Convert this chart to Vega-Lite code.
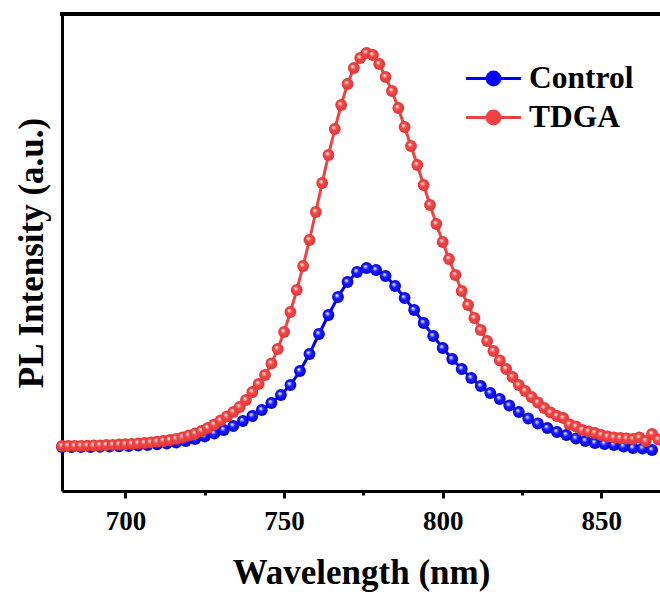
{
  "$schema": "https://vega.github.io/schema/vega-lite/v6.json",
  "width": 598,
  "height": 477,
  "autosize": "none",
  "padding": {"left": 62, "top": 14, "right": 0, "bottom": 101},
  "background": "white",
  "config": {
    "view": {"stroke": null},
    "font": "Liberation Serif",
    "axis": {"domainColor": "black", "domainWidth": 3, "tickColor": "black", "tickWidth": 3, "labelColor": "black", "titleColor": "black", "grid": false}
  },
  "datasets": {
    "pl": [
      {"series": "Control", "wavelength": 680, "intensity": 2200},
      {"series": "Control", "wavelength": 683, "intensity": 2200},
      {"series": "Control", "wavelength": 686, "intensity": 2200},
      {"series": "Control", "wavelength": 689, "intensity": 2200},
      {"series": "Control", "wavelength": 692, "intensity": 2210},
      {"series": "Control", "wavelength": 695, "intensity": 2225},
      {"series": "Control", "wavelength": 698, "intensity": 2235},
      {"series": "Control", "wavelength": 701, "intensity": 2250},
      {"series": "Control", "wavelength": 704, "intensity": 2275},
      {"series": "Control", "wavelength": 707, "intensity": 2300},
      {"series": "Control", "wavelength": 710, "intensity": 2335},
      {"series": "Control", "wavelength": 713, "intensity": 2375},
      {"series": "Control", "wavelength": 716, "intensity": 2425},
      {"series": "Control", "wavelength": 719, "intensity": 2500},
      {"series": "Control", "wavelength": 722, "intensity": 2600},
      {"series": "Control", "wavelength": 725, "intensity": 2725},
      {"series": "Control", "wavelength": 728, "intensity": 2875},
      {"series": "Control", "wavelength": 731, "intensity": 3050},
      {"series": "Control", "wavelength": 734, "intensity": 3250},
      {"series": "Control", "wavelength": 737, "intensity": 3500},
      {"series": "Control", "wavelength": 740, "intensity": 3750},
      {"series": "Control", "wavelength": 743, "intensity": 4050},
      {"series": "Control", "wavelength": 746, "intensity": 4400},
      {"series": "Control", "wavelength": 749, "intensity": 4800},
      {"series": "Control", "wavelength": 752, "intensity": 5300},
      {"series": "Control", "wavelength": 755, "intensity": 6000},
      {"series": "Control", "wavelength": 758, "intensity": 6850},
      {"series": "Control", "wavelength": 761, "intensity": 7850},
      {"series": "Control", "wavelength": 764, "intensity": 8800},
      {"series": "Control", "wavelength": 767, "intensity": 9700},
      {"series": "Control", "wavelength": 770, "intensity": 10450},
      {"series": "Control", "wavelength": 773, "intensity": 10950},
      {"series": "Control", "wavelength": 776, "intensity": 11150},
      {"series": "Control", "wavelength": 779, "intensity": 11050},
      {"series": "Control", "wavelength": 782, "intensity": 10750},
      {"series": "Control", "wavelength": 785, "intensity": 10250},
      {"series": "Control", "wavelength": 788, "intensity": 9650},
      {"series": "Control", "wavelength": 791, "intensity": 9050},
      {"series": "Control", "wavelength": 794, "intensity": 8400},
      {"series": "Control", "wavelength": 797, "intensity": 7750},
      {"series": "Control", "wavelength": 800, "intensity": 7150},
      {"series": "Control", "wavelength": 803, "intensity": 6600},
      {"series": "Control", "wavelength": 806, "intensity": 6100},
      {"series": "Control", "wavelength": 809, "intensity": 5650},
      {"series": "Control", "wavelength": 812, "intensity": 5250},
      {"series": "Control", "wavelength": 815, "intensity": 4900},
      {"series": "Control", "wavelength": 818, "intensity": 4600},
      {"series": "Control", "wavelength": 821, "intensity": 4275},
      {"series": "Control", "wavelength": 824, "intensity": 3950},
      {"series": "Control", "wavelength": 827, "intensity": 3625},
      {"series": "Control", "wavelength": 830, "intensity": 3375},
      {"series": "Control", "wavelength": 833, "intensity": 3150},
      {"series": "Control", "wavelength": 836, "intensity": 2950},
      {"series": "Control", "wavelength": 839, "intensity": 2800},
      {"series": "Control", "wavelength": 842, "intensity": 2625},
      {"series": "Control", "wavelength": 845, "intensity": 2500},
      {"series": "Control", "wavelength": 848, "intensity": 2400},
      {"series": "Control", "wavelength": 851, "intensity": 2350},
      {"series": "Control", "wavelength": 854, "intensity": 2300},
      {"series": "Control", "wavelength": 857, "intensity": 2225},
      {"series": "Control", "wavelength": 860, "intensity": 2150},
      {"series": "Control", "wavelength": 863, "intensity": 2125},
      {"series": "Control", "wavelength": 866, "intensity": 2050},
      {"series": "TDGA", "wavelength": 680, "intensity": 2250},
      {"series": "TDGA", "wavelength": 682, "intensity": 2250},
      {"series": "TDGA", "wavelength": 684, "intensity": 2250},
      {"series": "TDGA", "wavelength": 686, "intensity": 2260},
      {"series": "TDGA", "wavelength": 688, "intensity": 2265},
      {"series": "TDGA", "wavelength": 690, "intensity": 2275},
      {"series": "TDGA", "wavelength": 692, "intensity": 2285},
      {"series": "TDGA", "wavelength": 694, "intensity": 2300},
      {"series": "TDGA", "wavelength": 696, "intensity": 2310},
      {"series": "TDGA", "wavelength": 698, "intensity": 2325},
      {"series": "TDGA", "wavelength": 700, "intensity": 2340},
      {"series": "TDGA", "wavelength": 702, "intensity": 2360},
      {"series": "TDGA", "wavelength": 704, "intensity": 2380},
      {"series": "TDGA", "wavelength": 706, "intensity": 2400},
      {"series": "TDGA", "wavelength": 708, "intensity": 2430},
      {"series": "TDGA", "wavelength": 710, "intensity": 2465},
      {"series": "TDGA", "wavelength": 712, "intensity": 2500},
      {"series": "TDGA", "wavelength": 714, "intensity": 2550},
      {"series": "TDGA", "wavelength": 716, "intensity": 2610},
      {"series": "TDGA", "wavelength": 718, "intensity": 2685},
      {"series": "TDGA", "wavelength": 720, "intensity": 2775},
      {"series": "TDGA", "wavelength": 722, "intensity": 2875},
      {"series": "TDGA", "wavelength": 724, "intensity": 3000},
      {"series": "TDGA", "wavelength": 726, "intensity": 3150},
      {"series": "TDGA", "wavelength": 728, "intensity": 3325},
      {"series": "TDGA", "wavelength": 730, "intensity": 3525},
      {"series": "TDGA", "wavelength": 732, "intensity": 3725},
      {"series": "TDGA", "wavelength": 734, "intensity": 3950},
      {"series": "TDGA", "wavelength": 736, "intensity": 4200},
      {"series": "TDGA", "wavelength": 738, "intensity": 4550},
      {"series": "TDGA", "wavelength": 740, "intensity": 4950},
      {"series": "TDGA", "wavelength": 742, "intensity": 5350},
      {"series": "TDGA", "wavelength": 744, "intensity": 5800},
      {"series": "TDGA", "wavelength": 746, "intensity": 6375},
      {"series": "TDGA", "wavelength": 748, "intensity": 7100},
      {"series": "TDGA", "wavelength": 750, "intensity": 7950},
      {"series": "TDGA", "wavelength": 752, "intensity": 8950},
      {"series": "TDGA", "wavelength": 754, "intensity": 10050},
      {"series": "TDGA", "wavelength": 756, "intensity": 11250},
      {"series": "TDGA", "wavelength": 758, "intensity": 12550},
      {"series": "TDGA", "wavelength": 760, "intensity": 13950},
      {"series": "TDGA", "wavelength": 762, "intensity": 15400},
      {"series": "TDGA", "wavelength": 764, "intensity": 16800},
      {"series": "TDGA", "wavelength": 766, "intensity": 18100},
      {"series": "TDGA", "wavelength": 768, "intensity": 19300},
      {"series": "TDGA", "wavelength": 770, "intensity": 20350},
      {"series": "TDGA", "wavelength": 772, "intensity": 21150},
      {"series": "TDGA", "wavelength": 774, "intensity": 21650},
      {"series": "TDGA", "wavelength": 776, "intensity": 21900},
      {"series": "TDGA", "wavelength": 778, "intensity": 21800},
      {"series": "TDGA", "wavelength": 780, "intensity": 21350},
      {"series": "TDGA", "wavelength": 782, "intensity": 20700},
      {"series": "TDGA", "wavelength": 784, "intensity": 20000},
      {"series": "TDGA", "wavelength": 786, "intensity": 19150},
      {"series": "TDGA", "wavelength": 788, "intensity": 18200},
      {"series": "TDGA", "wavelength": 790, "intensity": 17250},
      {"series": "TDGA", "wavelength": 792, "intensity": 16300},
      {"series": "TDGA", "wavelength": 794, "intensity": 15300},
      {"series": "TDGA", "wavelength": 796, "intensity": 14300},
      {"series": "TDGA", "wavelength": 798, "intensity": 13350},
      {"series": "TDGA", "wavelength": 800, "intensity": 12450},
      {"series": "TDGA", "wavelength": 802, "intensity": 11600},
      {"series": "TDGA", "wavelength": 804, "intensity": 10800},
      {"series": "TDGA", "wavelength": 806, "intensity": 10000},
      {"series": "TDGA", "wavelength": 808, "intensity": 9300},
      {"series": "TDGA", "wavelength": 810, "intensity": 8650},
      {"series": "TDGA", "wavelength": 812, "intensity": 8050},
      {"series": "TDGA", "wavelength": 814, "intensity": 7500},
      {"series": "TDGA", "wavelength": 816, "intensity": 7000},
      {"series": "TDGA", "wavelength": 818, "intensity": 6525},
      {"series": "TDGA", "wavelength": 820, "intensity": 6100},
      {"series": "TDGA", "wavelength": 822, "intensity": 5700},
      {"series": "TDGA", "wavelength": 824, "intensity": 5300},
      {"series": "TDGA", "wavelength": 826, "intensity": 5000},
      {"series": "TDGA", "wavelength": 828, "intensity": 4700},
      {"series": "TDGA", "wavelength": 830, "intensity": 4425},
      {"series": "TDGA", "wavelength": 832, "intensity": 4150},
      {"series": "TDGA", "wavelength": 834, "intensity": 3925},
      {"series": "TDGA", "wavelength": 836, "intensity": 3750},
      {"series": "TDGA", "wavelength": 838, "intensity": 3650},
      {"series": "TDGA", "wavelength": 840, "intensity": 3325},
      {"series": "TDGA", "wavelength": 842, "intensity": 3225},
      {"series": "TDGA", "wavelength": 844, "intensity": 3050},
      {"series": "TDGA", "wavelength": 846, "intensity": 2975},
      {"series": "TDGA", "wavelength": 848, "intensity": 2900},
      {"series": "TDGA", "wavelength": 850, "intensity": 2800},
      {"series": "TDGA", "wavelength": 852, "intensity": 2725},
      {"series": "TDGA", "wavelength": 854, "intensity": 2675},
      {"series": "TDGA", "wavelength": 856, "intensity": 2650},
      {"series": "TDGA", "wavelength": 858, "intensity": 2625},
      {"series": "TDGA", "wavelength": 860, "intensity": 2600},
      {"series": "TDGA", "wavelength": 862, "intensity": 2675},
      {"series": "TDGA", "wavelength": 864, "intensity": 2500},
      {"series": "TDGA", "wavelength": 866, "intensity": 2850},
      {"series": "TDGA", "wavelength": 868, "intensity": 2575}
    ]
  },
  "data": {"name": "pl"},
  "encoding": {
    "x": {
      "field": "wavelength",
      "type": "quantitative",
      "scale": {"domain": [680, 868.5], "nice": false, "zero": false},
      "axis": {
        "title": "Wavelength (nm)",
        "values": [700, 725, 750, 775, 800, 825, 850],
        "labelExpr": "datum.value % 50 == 0 ? datum.label : ''",
        "tickSize": {"condition": {"test": "datum.value % 50 != 0", "value": 4}, "value": 7},
        "labelFontSize": 27,
        "labelFontWeight": "bold",
        "labelPadding": 10,
        "titleFontSize": 35,
        "titleFontWeight": "bold",
        "titlePadding": 21
      }
    },
    "y": {
      "field": "intensity",
      "type": "quantitative",
      "scale": {"domain": [0, 23850], "nice": false, "zero": false},
      "axis": {
        "title": "PL Intensity (a.u.)",
        "labels": false,
        "ticks": false,
        "titleFontSize": 35,
        "titleFontWeight": "bold",
        "titlePadding": 13
      }
    }
  },
  "layer": [
    {
      "transform": [{"filter": "datum.series === 'Control'"}],
      "mark": {"type": "line", "strokeWidth": 3},
      "encoding": {
        "color": {
          "field": "series",
          "type": "nominal",
          "scale": {"domain": ["Control", "TDGA"], "range": ["#0000ff", "#f04242"]},
          "legend": {
            "title": null,
            "orient": "none",
            "legendX": 415,
            "legendY": 48,
            "symbolType": "M-1.83,0L1.83,0M-0.43,0A0.43,0.43,0,1,1,0.43,0A0.43,0.43,0,1,1,-0.43,0Z",
            "symbolSize": 900,
            "symbolStrokeWidth": 3,
            "labelFontSize": 31.5,
            "labelFontWeight": "bold",
            "labelColor": "black",
            "labelOffset": 19,
            "rowPadding": 7,
            "encode": {"symbols": {"update": {"fill": {"scale": "color", "field": "value"}, "fillOpacity": {"value": 1}, "opacity": {"value": 1}}}}
          }
        }
      }
    },
    {
      "transform": [{"filter": "datum.series === 'Control'"}],
      "mark": {
        "type": "point", "shape": "circle", "filled": true, "size": 140, "opacity": 1, "strokeWidth": 0,
        "fill": {"gradient": "radial", "x1": 0.38, "y1": 0.35, "r1": 0, "x2": 0.5, "y2": 0.5, "r2": 0.5,
          "stops": [{"offset": 0, "color": "#ffffff"}, {"offset": 0.14, "color": "#c0c0ff"}, {"offset": 0.42, "color": "#2020ff"}, {"offset": 1, "color": "#0000d8"}]}
      }
    },
    {
      "transform": [{"filter": "datum.series === 'TDGA'"}],
      "mark": {"type": "line", "strokeWidth": 3},
      "encoding": {"color": {"field": "series", "type": "nominal"}}
    },
    {
      "transform": [{"filter": "datum.series === 'TDGA'"}],
      "mark": {
        "type": "point", "shape": "circle", "filled": true, "size": 140, "opacity": 1, "strokeWidth": 0,
        "fill": {"gradient": "radial", "x1": 0.38, "y1": 0.35, "r1": 0, "x2": 0.5, "y2": 0.5, "r2": 0.5,
          "stops": [{"offset": 0, "color": "#ffffff"}, {"offset": 0.14, "color": "#f8c4c4"}, {"offset": 0.42, "color": "#f24848"}, {"offset": 1, "color": "#e23636"}]}
      }
    },
    {
      "mark": {"type": "rule", "strokeWidth": 3, "color": "black", "strokeCap": "square"},
      "encoding": {"y": {"datum": 23850}, "x": null}
    }
  ]
}
